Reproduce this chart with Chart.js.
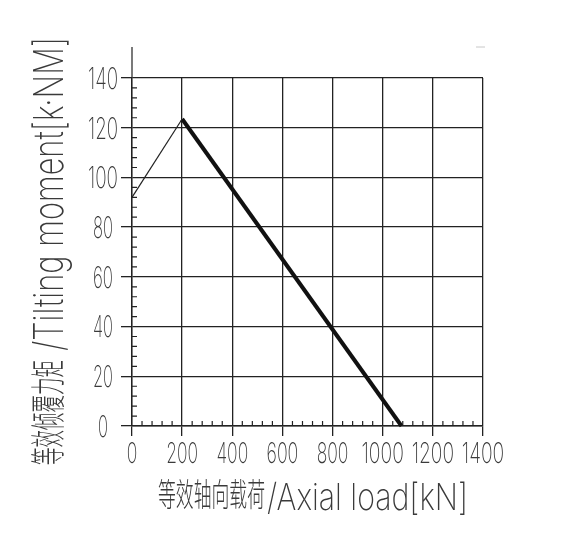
<!DOCTYPE html>
<html>
<head>
<meta charset="utf-8">
<script src="https://cdn.jsdelivr.net/npm/chart.js@4.4.1/dist/chart.umd.min.js"></script>
<style>
  html, body { margin: 0; padding: 0; background: #fff; }
  #wrap { width: 567px; height: 551px; }
</style>
</head>
<body>
<div id="wrap"><canvas id="chart" width="567" height="551"></canvas></div>
<script>
// axis ticks
const xTicks = [0, 200, 400, 600, 800, 1000, 1200, 1400];
const yTicks = [0, 20, 40, 60, 80, 100, 120, 140];
const xMinorStep = 40;
const yMinorStep = 4;

// curve: thin ramp then thick limit line
const rampX = [0, 200];
const rampY = [92, 123.5];
const limitX = [200, 1075];
const limitY = [123.5, 0];

const xTitleCn = '等效轴向载荷';
const xTitleEn = '/Axial load[kN]';
const yTitleCn = '等效倾覆力矩';
const yTitleEn = '/Tilting moment[k·NM]';

const INK = '#222';
const TEXT = '#3a3a3a';
const NUM_FONT = "200 30px Inter, 'DejaVu Sans', sans-serif";
const CJK = "'Noto Sans CJK SC', sans-serif";
const LATIN = "Inter, 'DejaVu Sans', sans-serif";

// draws text squeezed to a given width (CAD style narrow lettering)
function fitText(ctx, text, font, x, y, w, align) {
  ctx.save();
  ctx.font = font;
  const sx = w / ctx.measureText(text).width;
  const x0 = align === 'right' ? x - w : align === 'center' ? x - w / 2 : x;
  ctx.translate(x0, y);
  ctx.scale(sx, 1);
  ctx.textAlign = 'left';
  ctx.textBaseline = 'alphabetic';
  ctx.fillText(text, 0, 0);
  ctx.restore();
}

const cadFrame = {
  id: 'cadFrame',
  afterDraw(chart) {
    const { ctx, chartArea: a, scales: { x, y } } = chart;
    ctx.save();
    ctx.strokeStyle = INK;
    ctx.lineWidth = 1.2;
    ctx.beginPath();
    // minor ticks pointing inward
    for (let v = x.min; v <= x.max; v += xMinorStep) {
      if (xTicks.includes(v)) continue;
      const px = x.getPixelForValue(v);
      ctx.moveTo(px, a.bottom);
      ctx.lineTo(px, a.bottom - 5);
    }
    for (let v = y.min; v <= y.max; v += yMinorStep) {
      if (yTicks.includes(v)) continue;
      const py = y.getPixelForValue(v);
      ctx.moveTo(a.left, py);
      ctx.lineTo(a.left + 5, py);
    }
    // y axis runs on above the frame
    ctx.moveTo(a.left, a.top);
    ctx.lineTo(a.left, 47);
    ctx.stroke();

    ctx.strokeStyle = '#c8c8c8';
    ctx.lineWidth = 1;
    ctx.beginPath();
    ctx.moveTo(a.right - 7, 47);
    ctx.lineTo(a.right + 2, 47);
    ctx.stroke();

    // tick labels
    ctx.fillStyle = TEXT;
    y.ticks.forEach(t => {
      const s = String(t.value);
      fitText(ctx, s, NUM_FONT, 103, y.getPixelForValue(t.value) + 10.8, s.length * 10, 'center');
    });
    x.ticks.forEach(t => {
      const s = String(t.value);
      fitText(ctx, s, "200 28px " + LATIN, x.getPixelForValue(t.value), 463, s.length * 10.6, 'center');
    });

    // x title
    fitText(ctx, xTitleCn, "300 32px " + CJK, 158, 506, 107, 'left');
    fitText(ctx, xTitleEn, "200 37px " + LATIN, 267, 510, 201, 'left');

    // y title, rotated
    ctx.save();
    ctx.translate(63, 465);
    ctx.rotate(-Math.PI / 2);
    fitText(ctx, yTitleCn, "300 35px " + CJK, 0, -2, 105, 'left');
    fitText(ctx, yTitleEn, "200 41px " + LATIN, 114, 0, 314, 'left');
    ctx.restore();

    ctx.restore();
  }
};

const toPoints = (xs, ys) => xs.map((v, i) => ({ x: v, y: ys[i] }));

new Chart(document.getElementById('chart'), {
  type: 'line',
  data: {
    datasets: [
      {
        label: 'ramp',
        data: toPoints(rampX, rampY),
        borderColor: INK,
        borderWidth: 1.2,
        pointRadius: 0,
        clip: false,
      },
      {
        label: 'limit',
        data: toPoints(limitX, limitY),
        borderColor: '#111',
        borderWidth: 4,
        pointRadius: 0,
        clip: false,
      }
    ]
  },
  options: {
    responsive: false,
    animation: false,
    layout: { padding: { top: 78, right: 84, left: 0, bottom: 0 } },
    plugins: { legend: { display: false }, tooltip: { enabled: false } },
    scales: {
      x: {
        type: 'linear',
        min: 0, max: 1400,
        afterBuildTicks: s => { s.ticks = xTicks.map(v => ({ value: v })); },
        afterFit: s => { s.height = 125; },
        ticks: { display: false },
        grid: { color: INK, lineWidth: 1.3, drawTicks: true, tickLength: 10 },
        border: { display: true, color: INK, width: 1.4 }
      },
      y: {
        type: 'linear',
        min: 0, max: 140,
        afterBuildTicks: s => { s.ticks = yTicks.map(v => ({ value: v })); },
        afterFit: s => { s.width = 132; },
        ticks: { display: false },
        grid: { color: INK, lineWidth: 1.3, drawTicks: true, tickLength: 11 },
        border: { display: true, color: INK, width: 1.4 }
      }
    }
  },
  plugins: [cadFrame]
});
</script>
</body>
</html>
